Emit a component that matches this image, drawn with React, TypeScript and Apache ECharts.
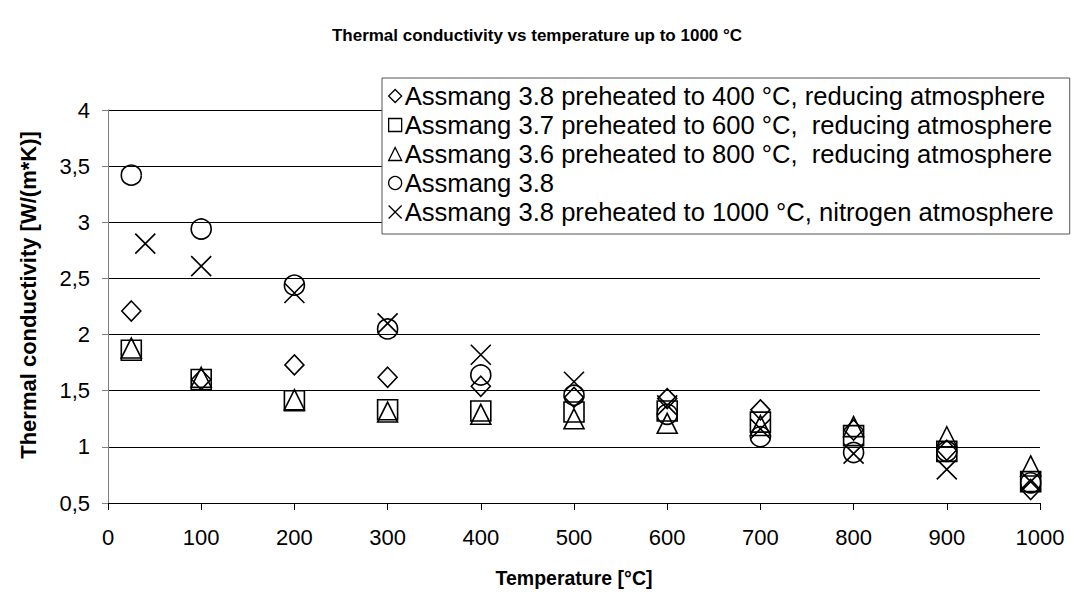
import React, { useEffect, useRef } from "react";
import * as echarts from "echarts";

const TEMPS = [25, 100, 200, 300, 400, 500, 600, 700, 800, 900, 990];
const TEMPS_N2 = [40, 100, 200, 300, 400, 500, 600, 700, 800, 900, 990];

const seriesNames = [
  "Assmang 3.8 preheated to 400 °C, reducing atmosphere",
  "Assmang 3.7 preheated to 600 °C,  reducing atmosphere",
  "Assmang 3.6 preheated to 800 °C,  reducing atmosphere",
  "Assmang 3.8",
  "Assmang 3.8 preheated to 1000 °C, nitrogen atmosphere",
];

const pre400 = [2.21, 1.6, 1.73, 1.62, 1.54, 1.44, 1.43, 1.33, 1.15, 0.97, 0.62];
const pre600 = [1.86, 1.6, 1.41, 1.33, 1.32, 1.31, 1.32, 1.22, 1.1, 0.96, 0.69];
const pre800 = [1.88, 1.62, 1.42, 1.31, 1.29, 1.25, 1.21, 1.19, 1.18, 1.09, 0.83];
const raw38 = [3.42, 2.94, 2.44, 2.05, 1.64, 1.46, 1.29, 1.09, 0.95, 0.96, 0.68];
const pre1000N2 = [2.81, 2.61, 2.37, 2.1, 1.82, 1.58, 1.37, 1.16, 0.94, 0.8, 0.69];

const xTicks = { min: 0, max: 1000, interval: 100 };
const yTicks = { min: 0.5, max: 4, interval: 0.5 };

const FONT = "'Liberation Sans', Arial, Helvetica, sans-serif";
const CROSS = "path://M0,0L10,10M10,0L0,10";

export default function App() {
  const ref = useRef<HTMLDivElement>(null);

  useEffect(() => {
    if (!ref.current) return;
    const chart = echarts.init(ref.current, null, { renderer: "svg" });

    const sets = [
      { name: seriesNames[0], x: TEMPS, y: pre400, symbol: "diamond" },
      { name: seriesNames[1], x: TEMPS, y: pre600, symbol: "rect" },
      { name: seriesNames[2], x: TEMPS, y: pre800, symbol: "triangle" },
      { name: seriesNames[3], x: TEMPS, y: raw38, symbol: "circle" },
      { name: seriesNames[4], x: TEMPS_N2, y: pre1000N2, symbol: CROSS },
    ];

    const series = sets.map((s) => ({
      type: "scatter",
      name: s.name,
      symbol: s.symbol,
      symbolSize: s.symbol === "diamond" ? [19, 20] : 20,
      data: s.x.map((x, i) => [x, s.y[i]]),
      itemStyle: {
        color: "rgba(255,255,255,0)",
        borderColor: "#000",
        borderWidth: 1.6,
        opacity: 1,
      },
      emphasis: { disabled: true },
    }));

    chart.setOption({
      animation: false,
      backgroundColor: "#fff",
      title: {
        text: "Thermal conductivity vs temperature up to 1000 °C",
        left: "center",
        top: 22,
        textStyle: { fontFamily: FONT, fontSize: 17, fontWeight: "bold", color: "#000" },
      },
      legend: {
        orient: "vertical",
        left: 382,
        top: 78,
        padding: [5, 16, 9, 6],
        itemGap: 3,
        itemWidth: 13,
        itemHeight: 13,
        itemStyle: { borderWidth: 1.3 },
        backgroundColor: "#fff",
        borderColor: "#555",
        borderWidth: 1,
        textStyle: { fontFamily: FONT, fontSize: 25.6, color: "#000", padding: [0, 0, 0, -2] },
        data: seriesNames,
      },
      graphic: [
        {
          type: "text",
          x: 28,
          y: 295,
          rotation: Math.PI / 2,
          style: {
            text: "Thermal conductivity [W/(m*K)]",
            font: `bold 22px ${FONT}`,
            fill: "#000",
            align: "center",
            verticalAlign: "middle",
          },
        },
      ],
      grid: { left: 108, right: 34, top: 110, bottom: 98, containLabel: false },
      xAxis: {
        type: "value",
        ...xTicks,
        name: "Temperature [°C]",
        nameLocation: "middle",
        nameGap: 65,
        nameTextStyle: { fontFamily: FONT, fontSize: 19.5, fontWeight: "bold", color: "#000" },
        axisLine: { show: true, onZero: false, lineStyle: { color: "#000", width: 1 } },
        axisTick: { show: true, inside: false, length: 7, lineStyle: { color: "#000" } },
        axisLabel: {
          fontFamily: FONT,
          fontSize: 22,
          color: "#000",
          margin: 23,
          formatter: (v: number) => String(v),
        },
        splitLine: { show: false },
      },
      yAxis: {
        type: "value",
        ...yTicks,
        axisLine: { show: true, lineStyle: { color: "#808080", width: 1 } },
        axisTick: { show: true, inside: false, length: 6, lineStyle: { color: "#808080" } },
        axisLabel: {
          fontFamily: FONT,
          fontSize: 22,
          color: "#000",
          margin: 18,
          formatter: (v: number) => String(v).replace(".", ","),
        },
        splitLine: { show: true, lineStyle: { color: "#000", width: 1 } },
      },
      series,
    });

    return () => chart.dispose();
  }, []);

  return (
    <div
      ref={ref}
      style={{ position: "fixed", left: 0, top: 0, width: 1074, height: 601, background: "#fff" }}
    />
  );
}
